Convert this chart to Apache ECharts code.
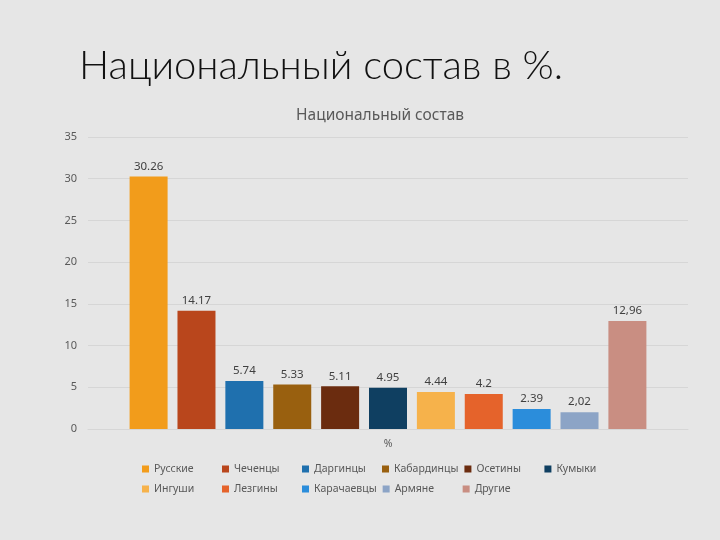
<!doctype html>
<html>
<head>
    <meta charset="UTF-8">
    <title>Национальный состав</title>
    <script src="https://cdn.jsdelivr.net/npm/echarts@6/dist/echarts.min.js"></script>
    <style>
        html, body { margin: 0; padding: 0; background: #e6e6e6; }
        #main { width: 720px; height: 540px; }
    </style>
</head>
<body>
<div id="main"></div>
<script>
    // данные с картинки
    var category = ['%'];
    var names = ['Русские', 'Чеченцы', 'Даргинцы', 'Кабардинцы', 'Осетины', 'Кумыки',
        'Ингуши', 'Лезгины', 'Карачаевцы', 'Армяне', 'Другие'];
    var values = [30.26, 14.17, 5.74, 5.33, 5.11, 4.95, 4.44, 4.2, 2.39, 2.02, 12.96];
    var labels = ['30.26', '14.17', '5.74', '5.33', '5.11', '4.95', '4.44', '4.2', '2.39', '2,02', '12,96'];
    var colors = ['#f29c1b', '#b9461c', '#1f70ae', '#99600f', '#6b2c0f', '#0f3f61',
        '#f6b24b', '#e5632b', '#2b8ddb', '#8ca4c6', '#c98e82'];

    var font = 'Noto Sans';

    var series = names.map(function (name, i) {
        return {
            name: name,
            type: 'bar',
            data: [values[i]],
            barWidth: 38,
            barGap: '26%',
            itemStyle: {color: colors[i]},
            label: {
                show: true,
                position: 'top',
                distance: 4,
                formatter: function () { return labels[i]; },
                color: '#404040',
                fontSize: 11.5,
                fontFamily: font
            },
            emphasis: {disabled: true}
        };
    });

    var myChart = echarts.init(document.getElementById('main'));

    var option = {
        backgroundColor: '#e6e6e6',
        animation: false,
        title: [
            {
                text: 'Национальный состав в %.',
                left: 74,
                top: 41,
                textStyle: {
                    fontFamily: 'Lato',
                    fontWeight: 300,
                    fontSize: 40,
                    color: '#111111'
                }
            },
            {
                text: 'Национальный состав',
                left: 375,
                top: 103,
                textAlign: 'center',
                textStyle: {
                    fontFamily: font,
                    fontWeight: 'normal',
                    fontSize: 15.5,
                    color: '#595959'
                }
            }
        ],
        legend: {
            data: names,
            left: 137,
            top: 457,
            width: 480,
            itemWidth: 7,
            itemHeight: 7,
            itemGap: 6,
            icon: 'rect',
            textStyle: {
                fontFamily: font,
                fontSize: 10.5,
                color: '#595959',
                width: 62,
                lineHeight: 14
            },
            selectedMode: false
        },
        grid: {
            left: 88,
            right: 32,
            top: 137,
            bottom: 111
        },
        xAxis: {
            type: 'category',
            data: category,
            axisLine: {lineStyle: {color: '#d6d6d6'}},
            axisTick: {show: false},
            axisLabel: {
                color: '#595959',
                fontSize: 10.5,
                fontFamily: font,
                margin: 10
            }
        },
        yAxis: {
            type: 'value',
            min: 0,
            max: 35,
            interval: 5,
            axisLine: {show: false},
            axisTick: {show: false},
            splitLine: {lineStyle: {color: '#d6d6d6'}},
            axisLabel: {
                color: '#595959',
                fontSize: 11,
                fontFamily: font,
                margin: 11
            }
        },
        series: series
    };

    myChart.setOption(option);
</script>
</body>
</html>
